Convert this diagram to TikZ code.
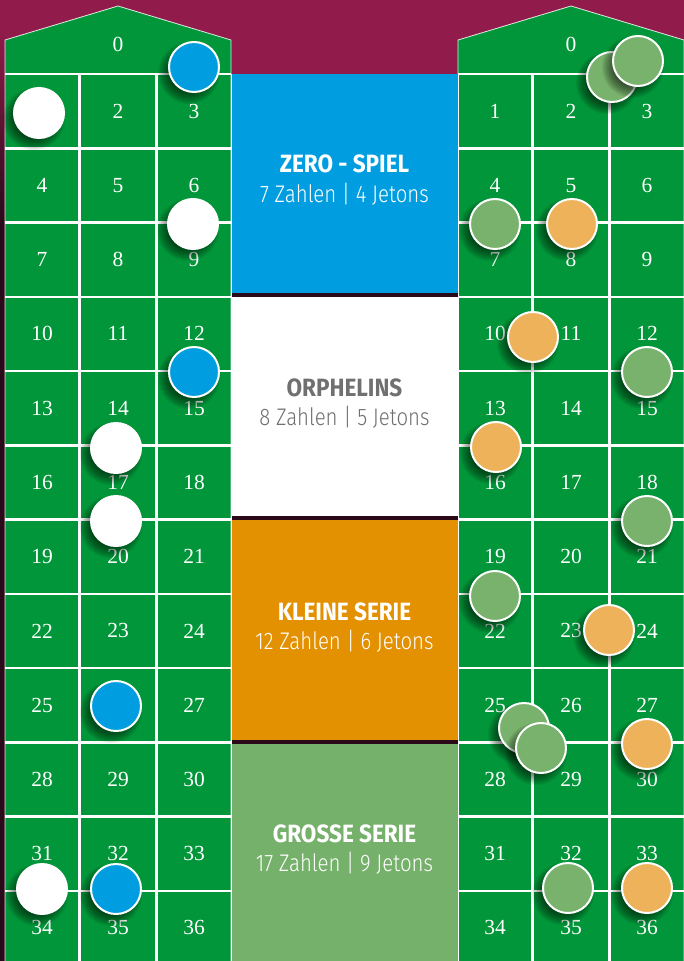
\documentclass[tikz,border=0pt]{standalone}
\usepackage{fontspec}
\setmainfont{Liberation Serif}
\newfontfamily\titlefont{Fira Sans}[FakeStretch=0.9]
\newfontfamily\subfont{Fira Sans Light}[FakeStretch=0.85]
\definecolor{maroon}{RGB}{145,27,75}
\definecolor{darkband}{RGB}{42,10,24}
\definecolor{tablegreen}{RGB}{0,150,57}
\definecolor{zeroblue}{RGB}{0,158,224}
\definecolor{serieorange}{RGB}{227,145,0}
\definecolor{seriegreen}{RGB}{118,177,107}
\definecolor{chiporange}{RGB}{237,178,90}
\definecolor{chipgreen}{RGB}{120,178,108}
\definecolor{orphgray}{RGB}{112,112,112}
\tikzset{
  gridline/.style={white, line width=2.5pt},
  boardnum/.style={text=white, inner sep=0pt, font=\fontsize{21.5}{24}\selectfont},
  chipnode/.style={circle, minimum size=50pt, inner sep=0pt, draw=white, line width=2pt},
  paneltitle/.style={inner sep=0pt, font=\titlefont\bfseries\fontsize{25}{28}\selectfont},
  panelsub/.style={inner sep=0pt, font=\subfont\fontsize{24}{28}\selectfont},
}
\newcommand\chipat[4]{%
  \foreach \i in {0,...,11} {\fill[black, opacity=0.055] (#2-5,#3+6) circle[radius={20pt+\i*1pt}];}
  \node[chipnode, fill=#4] (#1) at (#2,#3) {};
}
\begin{document}
\begin{tikzpicture}[x=1pt,y=-1pt]
\useasboundingbox (0,0) rectangle (684,961);
% background
\fill[maroon] (0,0) rectangle (684,961);
\shade[top color=maroon, bottom color=darkband] (0,30) rectangle (5,220);
\fill[darkband] (0,219) rectangle (5,961);
% boards
\foreach \bx/\bn in {5/L,458/R} {
  \fill[tablegreen] (\bx,40) -- (\bx+113,6) -- (\bx+226,40) -- (\bx+226,961) -- (\bx,961) -- cycle;
  \draw[white, line width=0.8pt, opacity=0.85] (\bx,961) -- (\bx,40) -- (\bx+113,6) -- (\bx+226,40) -- (\bx+226,961);
  \foreach \k in {0,...,11} {\draw[gridline] (\bx,{74+74.25*\k}) -- (\bx+226,{74+74.25*\k});}
  \draw[gridline] (\bx+74.5,74) -- (\bx+74.5,961);
  \draw[gridline] (\bx+151.5,74) -- (\bx+151.5,961);
  \node[boardnum] (\bn0) at (\bx+113,44) {0};
  \foreach \r in {0,...,11} {
    \foreach \c/\cx in {0/37,1/113,2/189} {
      \pgfmathtruncatemacro\num{3*\r+\c+1}
      \node[boardnum] (\bn\num) at (\bx+\cx,{74+74.25*(\r+0.5)}) {\num};
    }
  }
}
% middle panels
\fill[zeroblue] (231,74) rectangle (458,297);
\fill[white] (231,297) rectangle (458,520);
\fill[serieorange] (231,520) rectangle (458,744);
\fill[seriegreen] (231,744) rectangle (458,961);
\fill[darkband] (231,293) rectangle (458,297);
\fill[darkband] (231,516) rectangle (458,520);
\fill[darkband] (231,740) rectangle (458,744);
\draw[white, line width=0.8pt] (231,74) -- (231,961) (458,74) -- (458,961);
\node[paneltitle, text=white] (t1) at (344.5,164) {ZERO - SPIEL};
\node[panelsub, text=white] (s1) at (344.5,194) {7 Zahlen | 4 Jetons};
\node[paneltitle, text=orphgray] (t2) at (344.5,388) {ORPHELINS};
\node[panelsub, text=orphgray] (s2) at (344.5,417) {8 Zahlen | 5 Jetons};
\node[paneltitle, text=white] (t3) at (344.5,612) {KLEINE SERIE};
\node[panelsub, text=white] (s3) at (344.5,641) {12 Zahlen | 6 Jetons};
\node[paneltitle, text=white] (t4) at (344.5,834) {GROSSE SERIE};
\node[panelsub, text=white] (s4) at (344.5,863) {17 Zahlen | 9 Jetons};
% chips left board
\chipat{zb1}{194}{67}{zeroblue}
\chipat{ow1}{39}{113}{white}
\chipat{ow2}{193}{224}{white}
\chipat{zb2}{194}{372}{zeroblue}
\chipat{ow3}{116}{448}{white}
\chipat{ow4}{116}{521}{white}
\chipat{zb3}{116}{706}{zeroblue}
\chipat{ow5}{42}{889}{white}
\chipat{zb4}{116}{889}{zeroblue}
% chips right board
\chipat{gs1}{612}{77}{chipgreen}
\chipat{gs2}{638}{61}{chipgreen}
\chipat{gs3}{495}{224}{chipgreen}
\chipat{ks1}{572}{224}{chiporange}
\chipat{ks2}{533}{337}{chiporange}
\chipat{gs4}{647}{372}{chipgreen}
\chipat{ks3}{496}{447}{chiporange}
\chipat{gs5}{647}{521}{chipgreen}
\chipat{gs6}{495}{596}{chipgreen}
\chipat{ks4}{609}{630}{chiporange}
\chipat{gs7}{524}{728}{chipgreen}
\chipat{gs8}{541}{748}{chipgreen}
\chipat{ks5}{647}{744}{chiporange}
\chipat{gs9}{568}{888}{chipgreen}
\chipat{ks6}{647}{888}{chiporange}
\end{tikzpicture}
\end{document}
